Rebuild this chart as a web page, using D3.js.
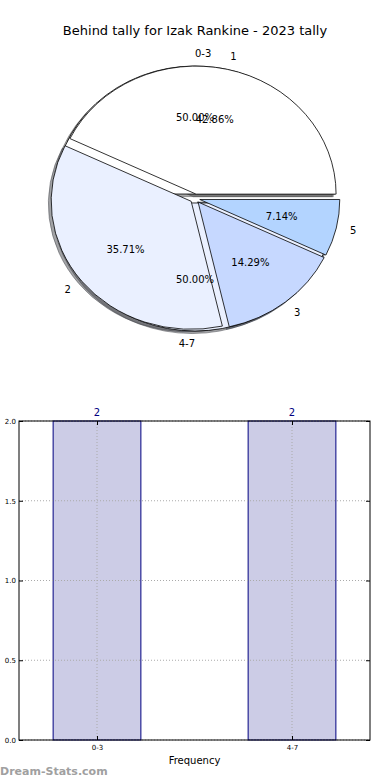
<!DOCTYPE html>
<html>
<head>
<meta charset="utf-8">
<script src="https://cdn.jsdelivr.net/npm/d3@7"></script>
<style>
  body { margin: 0; background: #fff; }
  text { font-family: "DejaVu Sans", sans-serif; }
</style>
</head>
<body>
<div id="wrapper"></div>
<script>
// chart data
const chartTitle = "Behind tally for Izak Rankine - 2023 tally"
const groupLabels = ["0-3", "4-7"]
const groupCounts = [2, 2]
const tallyLabels = ["1", "2", "3", "5"]
const tallyCounts = [6, 5, 2, 1]
const barCategories = ["0-3", "4-7"]
const barValues = [2, 2]
const yTicks = [0, 0.5, 1, 1.5, 2]

function drawChart() {
    const parent = d3.select("#wrapper")
    parent.selectAll('*').remove()
    const svg = parent.append("svg").attr("width", 390).attr("height", 780)

    // title
    svg.append("text")
        .attr("x", 195).attr("y", 35)
        .attr("text-anchor", "middle")
        .style("font-size", "13px")
        .text(chartTitle)

    // pie is drawn as an ellipse, like the original (axes not equal)
    const pie = { cx: 195, cy: 198.5, rx: 140, ry: 128, explode: 0.035 }
    const pieGen = d3.pie().sort(null).startAngle(Math.PI / 2).endAngle(Math.PI / 2 - 2 * Math.PI)
    const arcGen = d3.arc().innerRadius(0).outerRadius(1)

    const makeSlices = (labels, counts, colors) => {
        const total = d3.sum(counts)
        return pieGen(counts).map((d, i) => {
            // angle counter-clockwise from east
            const theta = Math.PI / 2 - (d.startAngle + d.endAngle) / 2
            return {
                ...d,
                label: labels[i],
                pct: d.value / total * 100,
                color: colors[i],
                theta: theta,
                ox: pie.cx + pie.explode * pie.rx * Math.cos(theta),
                oy: pie.cy - pie.explode * pie.ry * Math.sin(theta),
            }
        })
    }
    const outerSlices = makeSlices(groupLabels, groupCounts, ["#ffffff", "#eaf0ff"])
    const innerSlices = makeSlices(tallyLabels, tallyCounts, ["#ffffff", "#eaf0ff", "#c6d8ff", "#b3d4ff"])
    const allSlices = outerSlices.concat(innerSlices)

    const shade = c => {
        const r = d3.rgb(c)
        return d3.rgb(r.r * 0.3, r.g * 0.3, r.b * 0.3).toString()
    }
    const pieG = svg.append("g")
    // shadows under every wedge
    pieG.selectAll(".shadow").data(allSlices).join("path")
        .attr("class", "shadow")
        .attr("transform", d => `translate(${d.ox - 0.02 * pie.rx},${d.oy + 0.02 * pie.ry}) scale(${pie.rx},${pie.ry})`)
        .attr("d", arcGen)
        .attr("fill", d => shade(d.color))
        .attr("fill-opacity", 0.5)
        .attr("stroke", d => shade(d.color))
        .attr("stroke-opacity", 0.5)
        .attr("vector-effect", "non-scaling-stroke")
    // wedges
    pieG.selectAll(".wedge").data(allSlices).join("path")
        .attr("class", "wedge")
        .attr("transform", d => `translate(${d.ox},${d.oy}) scale(${pie.rx},${pie.ry})`)
        .attr("d", arcGen)
        .attr("fill", d => d.color)
        .attr("stroke", "#000")
        .attr("stroke-width", 0.8)
        .attr("vector-effect", "non-scaling-stroke")
    // category labels
    pieG.selectAll(".lbl").data(allSlices).join("text")
        .attr("class", "lbl")
        .attr("x", d => d.ox + 1.1 * pie.rx * Math.cos(d.theta))
        .attr("y", d => d.oy - 1.1 * pie.ry * Math.sin(d.theta))
        .attr("text-anchor", d => Math.cos(d.theta) > 0 ? "start" : "end")
        .attr("dominant-baseline", "central")
        .style("font-size", "10px")
        .text(d => d.label)
    // percentages
    pieG.selectAll(".pct").data(allSlices).join("text")
        .attr("class", "pct")
        .attr("x", d => d.ox + 0.6 * pie.rx * Math.cos(d.theta))
        .attr("y", d => d.oy - 0.6 * pie.ry * Math.sin(d.theta))
        .attr("text-anchor", "middle")
        .attr("dominant-baseline", "central")
        .style("font-size", "10px")
        .text(d => d.pct.toFixed(2) + "%")

    // bar chart
    const dims = { left: 19, right: 370, top: 421, bottom: 740 }
    const xScale = d3.scaleLinear().domain([-0.4, 1.4]).range([dims.left, dims.right])
    const yScale = d3.scaleLinear().domain([0, 2]).range([dims.bottom, dims.top])
    const barWidth = 0.45
    const barG = svg.append("g")

    barG.selectAll(".bar").data(barValues).join("rect")
        .attr("class", "bar")
        .attr("x", (d, i) => xScale(i - barWidth / 2))
        .attr("y", d => yScale(d))
        .attr("width", xScale(barWidth) - xScale(0))
        .attr("height", d => yScale(0) - yScale(d))
        .attr("fill", "#ccccE6")
        .attr("stroke", "#000080")
        .attr("stroke-width", 1)

    // dotted grid over the bars
    barG.selectAll(".hgrid").data(yTicks).join("line")
        .attr("class", "hgrid")
        .attr("x1", dims.left).attr("x2", dims.right)
        .attr("y1", d => yScale(d)).attr("y2", d => yScale(d))
    barG.selectAll(".vgrid").data(barCategories).join("line")
        .attr("class", "vgrid")
        .attr("x1", (d, i) => xScale(i)).attr("x2", (d, i) => xScale(i))
        .attr("y1", dims.top).attr("y2", dims.bottom)
    barG.selectAll(".hgrid, .vgrid")
        .attr("stroke", "#aaaaaa")
        .attr("stroke-width", 1)
        .attr("stroke-dasharray", "1,2")

    // value labels
    barG.selectAll(".val").data(barValues).join("text")
        .attr("class", "val")
        .attr("x", (d, i) => xScale(i))
        .attr("y", d => yScale(d) - 5)
        .attr("text-anchor", "middle")
        .attr("fill", "#000080")
        .style("font-size", "10px")
        .text(d => d)

    // axes with inward ticks
    const catIdx = barCategories.map((d, i) => i)
    const yAxisL = barG.append("g").attr("transform", `translate(${dims.left},0)`)
        .call(d3.axisLeft(yScale).tickValues(yTicks).tickFormat(d3.format(".1f")).tickSize(-4).tickPadding(3))
    barG.append("g").attr("transform", `translate(${dims.right},0)`)
        .call(d3.axisRight(yScale).tickValues(yTicks).tickFormat("").tickSize(-4))
    const xAxisB = barG.append("g").attr("transform", `translate(0,${dims.bottom})`)
        .call(d3.axisBottom(xScale).tickValues(catIdx).tickFormat(i => barCategories[i]).tickSize(-4).tickPadding(5))
    barG.append("g").attr("transform", `translate(0,${dims.top})`)
        .call(d3.axisTop(xScale).tickValues(catIdx).tickFormat("").tickSize(-4))
    barG.selectAll(".domain").remove()
    barG.selectAll(".tick text").style("font-size", "7px").style("font-family", "DejaVu Sans, sans-serif")
    barG.selectAll(".tick line").attr("stroke", "#000")

    // frame
    barG.append("rect")
        .attr("x", dims.left).attr("y", dims.top)
        .attr("width", dims.right - dims.left).attr("height", dims.bottom - dims.top)
        .attr("fill", "none").attr("stroke", "#000").attr("stroke-width", 1)

    // x label
    svg.append("text")
        .attr("x", 194.5).attr("y", 764)
        .attr("text-anchor", "middle")
        .style("font-size", "10px")
        .text("Frequency")

    // watermark
    svg.append("text")
        .attr("x", 0).attr("y", 775)
        .attr("fill", "#a0a0a0")
        .style("font-size", "11px")
        .style("font-weight", "bold")
        .text("Dream-Stats.com")
}
drawChart()
</script>
</body>
</html>
